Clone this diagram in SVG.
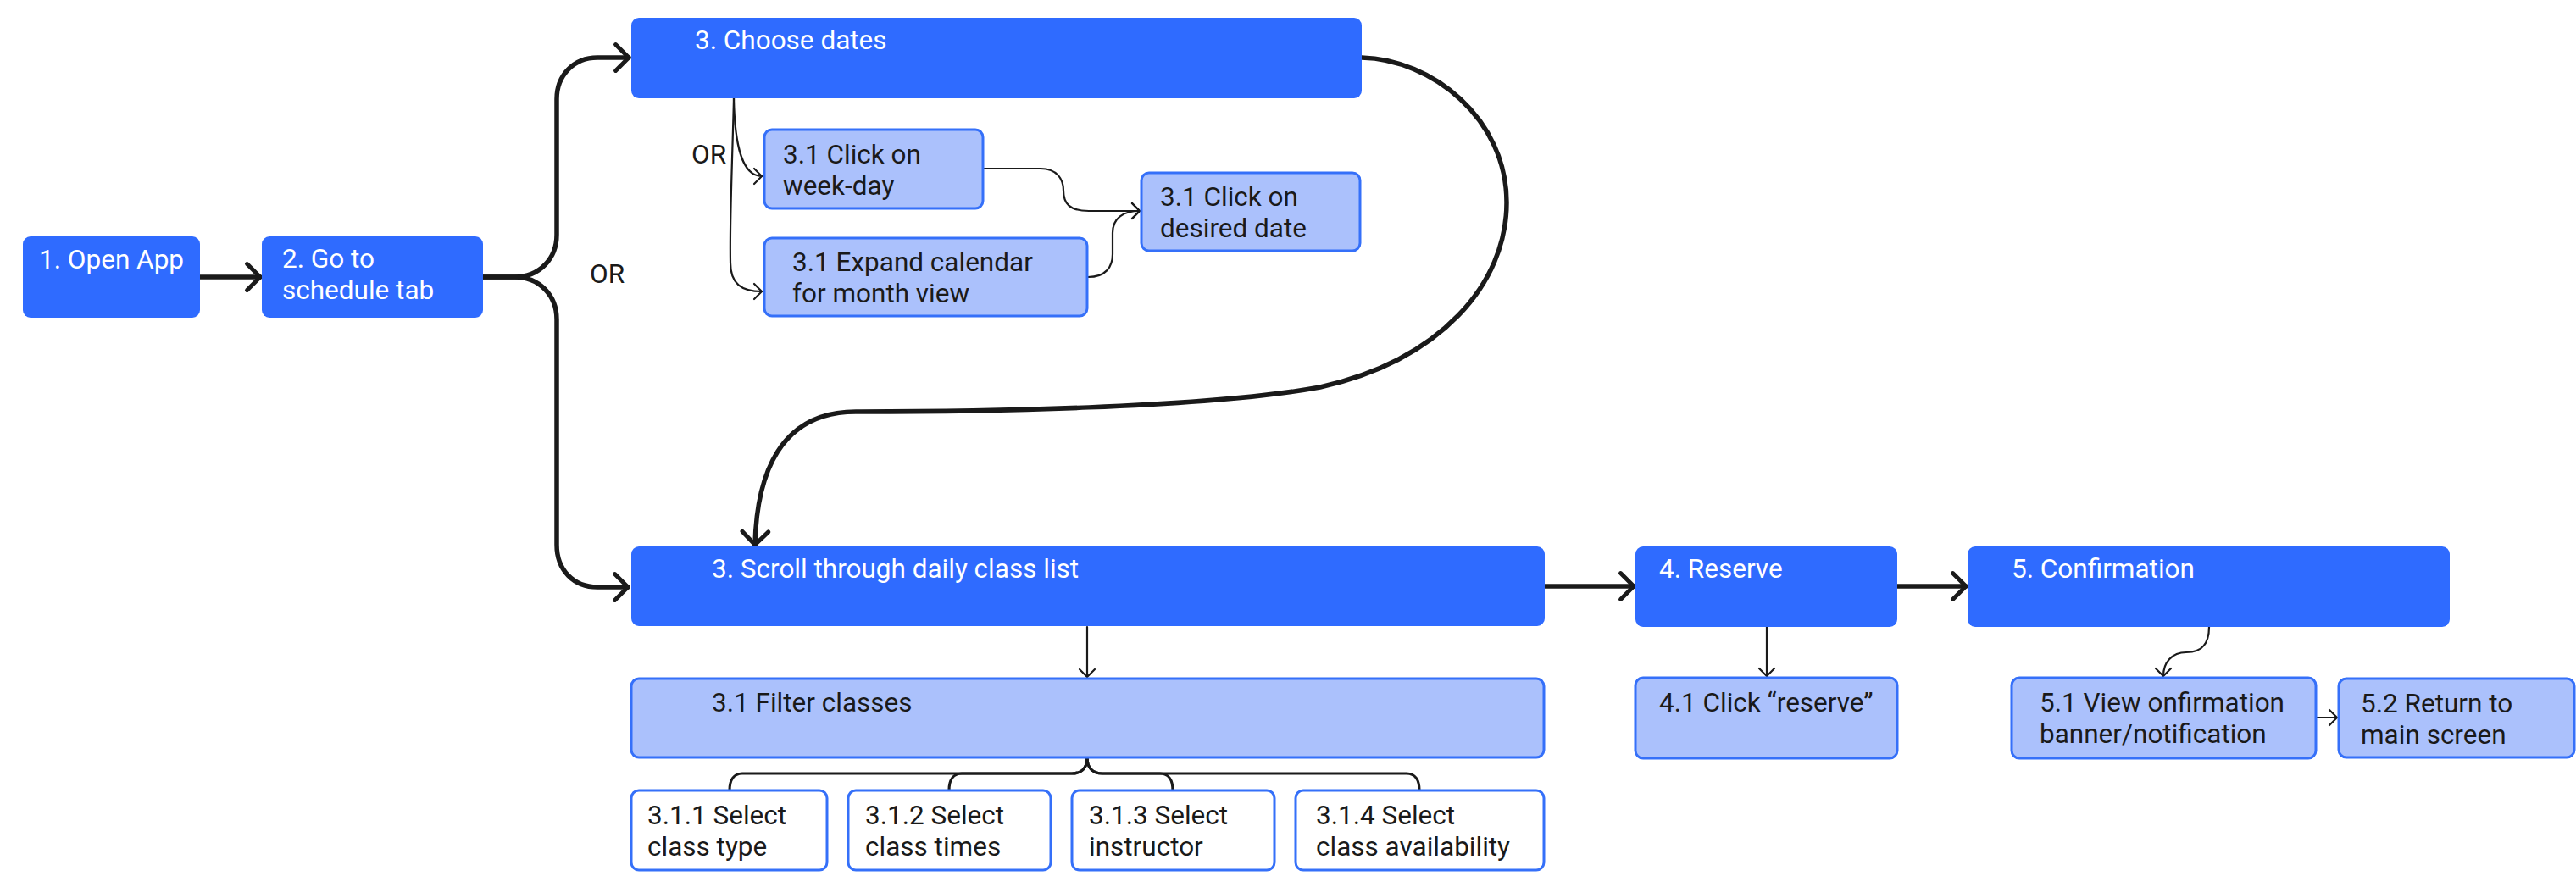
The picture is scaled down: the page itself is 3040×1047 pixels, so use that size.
<svg xmlns="http://www.w3.org/2000/svg" width="3040" height="1047" viewBox="0 0 3040 1047">
<style>
.bg{fill:#ffffff}
.dk{fill:#2f6bff}
.lt{fill:#abc1fc;stroke:#3570f9;stroke-width:3}
.wh{fill:#ffffff;stroke:#3570f9;stroke-width:3}
text{font-family:Roboto,"Liberation Sans",sans-serif;font-size:31.5px}
.tw{fill:#ffffff}
.tb{fill:#1a1a1a}
.thick{fill:none;stroke:#1a1a1a;stroke-width:5.5;stroke-linecap:round;stroke-linejoin:round}
.thin{fill:none;stroke:#1a1a1a;stroke-width:2.2;stroke-linecap:round}
.mid{fill:none;stroke:#1a1a1a;stroke-width:3.2;stroke-linecap:round}
</style>
<defs>
<marker id="ah" markerUnits="userSpaceOnUse" markerWidth="40" markerHeight="40" viewBox="-22 -22 26 44" refX="0" refY="0" orient="auto" overflow="visible">
<path d="M-17,-17 L0,0 L-17,17" fill="none" stroke="#1a1a1a" stroke-width="5.5" stroke-linecap="round" stroke-linejoin="round"/>
</marker>
<marker id="as" markerUnits="userSpaceOnUse" markerWidth="24" markerHeight="24" viewBox="-12 -12 14 24" refX="0" refY="0" orient="auto" overflow="visible">
<path d="M-9,-9 L0,0 L-9,9" fill="none" stroke="#1a1a1a" stroke-width="2.2" stroke-linecap="round" stroke-linejoin="round"/>
</marker>
</defs>
<rect class="bg" x="0" y="0" width="3040" height="1047"/>

<g id="connectors">
<path class="thick" d="M236,327 L307,327" marker-end="url(#ah)"/>
<path class="thick" d="M570,327 L607,327 C637,327 657,305 657,277 L657,117 C657,89 677,68 705,68 L742,68" marker-end="url(#ah)"/>
<path class="thick" d="M570,327 L607,327 C637,327 657,349 657,377 L657,643 C657,673 677,693 705,693 L741,693" marker-end="url(#ah)"/>
<path class="thick" d="M1607,68 C1690,70 1778,140 1778,239 C1778,335 1700,425 1558,457 C1420,482 1150,486 1010,486 C920,486 893,560 891,643" marker-end="url(#ah)"/>
<path class="thick" d="M1823,692 L1928,692" marker-end="url(#ah)"/>
<path class="thick" d="M2239,692 L2320,692" marker-end="url(#ah)"/>
<path class="thin" d="M866,116 C867,170 875,208 899,208" marker-end="url(#as)"/>
<path class="thin" d="M866,116 C864,200 861,260 862,310 C862,335 875,344 899,344" marker-end="url(#as)"/>
<path class="thin" d="M1161,199 L1228,199 C1248,199 1255,212 1255,225 C1255,240 1262,249 1285,249 L1345,249" marker-end="url(#as)"/>
<path class="thin" d="M1284,327 C1305,327 1313,315 1313,300 L1313,275 C1313,258 1325,249 1345,249" marker-end="url(#as)"/>
<path class="thin" d="M1283,740 L1283,799" marker-end="url(#as)"/>
<path class="thin" d="M2085,740 L2085,798" marker-end="url(#as)"/>
<path class="thin" d="M2607,740 C2607,762 2597,770 2580,770 C2563,770 2553,782 2553,798" marker-end="url(#as)"/>
<path class="thin" d="M2734,847 L2758,847" marker-end="url(#as)"/>
<path class="mid" d="M1283,894 C1283,906 1277,913 1265,913 L876,913 C866,913 861,921 861,933"/>
<path class="mid" d="M1283,894 C1283,906 1277,913 1265,913 L1135,913 C1125,913 1120,921 1120,933"/>
<path class="mid" d="M1283,894 C1283,906 1289,913 1301,913 L1369,913 C1379,913 1384,921 1384,933"/>
<path class="mid" d="M1283,894 C1283,906 1289,913 1301,913 L1660,913 C1670,913 1675,921 1675,933"/>
<text class="tb" x="696" y="334">OR</text>
<text class="tb" x="816" y="193">OR</text>
</g>

<g id="n1"><rect class="dk" x="27" y="279" width="209" height="96" rx="9"/><text class="tw" x="46" y="317">1. Open App</text></g>
<g id="n2"><rect class="dk" x="309" y="279" width="261" height="96" rx="9"/><text class="tw" x="333" y="316">2. Go to</text><text class="tw" x="333" y="353">schedule tab</text></g>
<g id="n3"><rect class="dk" x="745" y="21" width="862" height="95" rx="9"/><text class="tw" x="820" y="58">3. Choose dates</text></g>
<g id="n31a"><rect class="lt" x="902" y="153" width="258" height="93" rx="9"/><text class="tb" x="924" y="193">3.1 Click on</text><text class="tb" x="924" y="230">week-day</text></g>
<g id="n31b"><rect class="lt" x="902" y="281" width="381" height="92" rx="9"/><text class="tb" x="935" y="320">3.1 Expand calendar</text><text class="tb" x="935" y="357">for month view</text></g>
<g id="n31c"><rect class="lt" x="1347" y="204" width="258" height="92" rx="9"/><text class="tb" x="1369" y="243">3.1 Click on</text><text class="tb" x="1369" y="280">desired date</text></g>
<g id="n3s"><rect class="dk" x="745" y="645" width="1078" height="94" rx="9"/><text class="tw" x="840" y="682">3. Scroll through daily class list</text></g>
<g id="n31f"><rect class="lt" x="745" y="801" width="1077" height="93" rx="9"/><text class="tb" x="840" y="840">3.1 Filter classes</text></g>
<g id="n311"><rect class="wh" x="745" y="933" width="231" height="94" rx="9"/><text class="tb" x="764" y="973">3.1.1 Select</text><text class="tb" x="764" y="1010">class type</text></g>
<g id="n312"><rect class="wh" x="1001" y="933" width="239" height="94" rx="9"/><text class="tb" x="1021" y="973">3.1.2 Select</text><text class="tb" x="1021" y="1010">class times</text></g>
<g id="n313"><rect class="wh" x="1265" y="933" width="239" height="94" rx="9"/><text class="tb" x="1285" y="973">3.1.3 Select</text><text class="tb" x="1285" y="1010">instructor</text></g>
<g id="n314"><rect class="wh" x="1529" y="933" width="293" height="94" rx="9"/><text class="tb" x="1553" y="973">3.1.4 Select</text><text class="tb" x="1553" y="1010">class availability</text></g>
<g id="n4"><rect class="dk" x="1930" y="645" width="309" height="95" rx="9"/><text class="tw" x="1958" y="682">4. Reserve</text></g>
<g id="n41"><rect class="lt" x="1930" y="800" width="309" height="95" rx="9"/><text class="tb" x="1958" y="840">4.1 Click “reserve”</text></g>
<g id="n5"><rect class="dk" x="2322" y="645" width="569" height="95" rx="9"/><text class="tw" x="2374" y="682">5. Confirmation</text></g>
<g id="n51"><rect class="lt" x="2374" y="800" width="359" height="95" rx="9"/><text class="tb" x="2407" y="840">5.1 View onfirmation</text><text class="tb" x="2407" y="877">banner/notification</text></g>
<g id="n52"><rect class="lt" x="2760" y="801" width="278" height="93" rx="9"/><text class="tb" x="2786" y="841">5.2 Return to</text><text class="tb" x="2786" y="878">main screen</text></g>
</svg>
